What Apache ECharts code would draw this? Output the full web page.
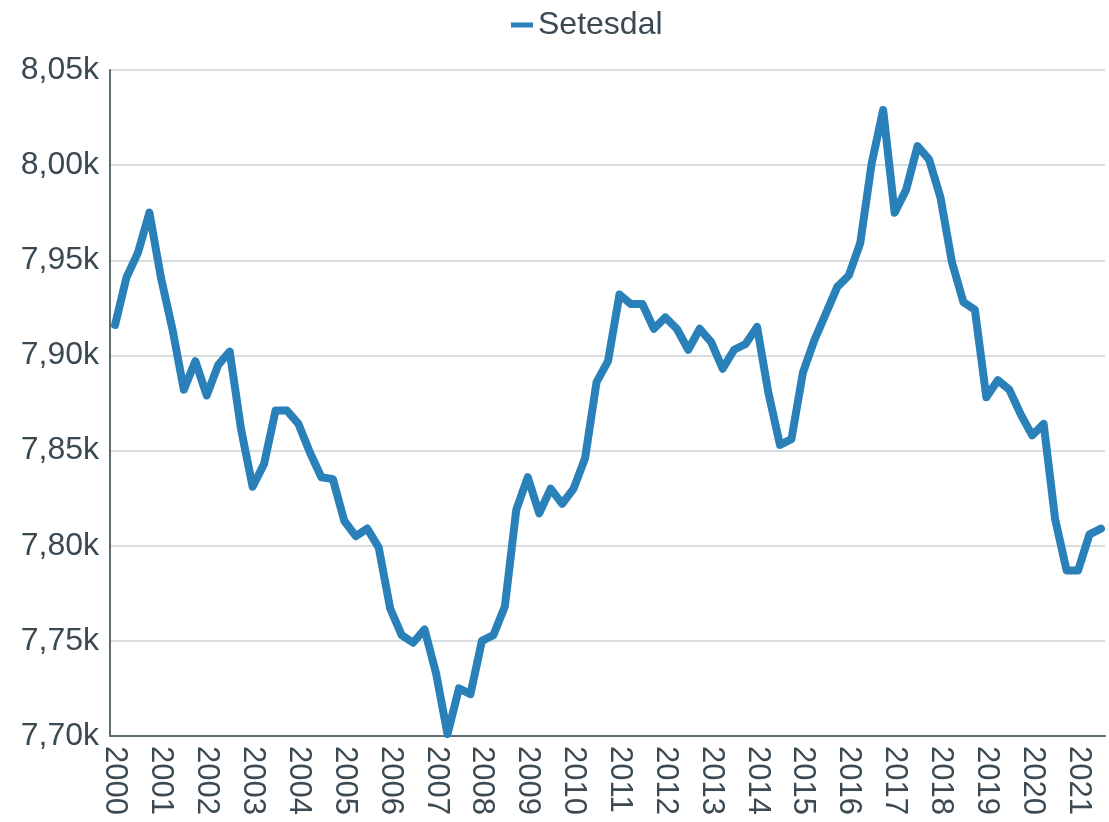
<!DOCTYPE html>
<html>
<head>
<meta charset="utf-8">
<script src="https://cdn.jsdelivr.net/npm/echarts@6/dist/echarts.min.js"></script>
<style>
  html, body { margin: 0; padding: 0; background: #fff; }
  #chart { width: 1109px; height: 822px; }
</style>
</head>
<body>
<div id="chart"></div>
<script>
// quarterly values 2000K1 .. 2021K3, one year label every 4 quarters
const years = [];
for (let y = 2000; y <= 2021; y++) years.push(String(y));

const seriesName = 'Setesdal';
const setesdal = [
  7916, 7941, 7954, 7975, 7941, 7914, 7882, 7897, 7879, 7895, 7902, 7861,
  7831, 7843, 7871, 7871, 7864, 7849, 7836, 7835, 7813, 7805, 7809, 7799,
  7767, 7753, 7749, 7756, 7733, 7701, 7725, 7722, 7750, 7753, 7768, 7819,
  7836, 7817, 7830, 7822, 7830, 7846, 7886, 7897, 7932, 7927, 7927, 7914,
  7920, 7914, 7903, 7914, 7907, 7893, 7903, 7906, 7915, 7880, 7853, 7856,
  7891, 7908, 7922, 7936, 7942, 7959, 8001, 8029, 7975, 7987, 8010, 8003,
  7983, 7949, 7928, 7924, 7878, 7887, 7882, 7869, 7858, 7864, 7814, 7787,
  7787, 7806, 7809
];
const yearTicks = years.map((y, i) => i * 4);

const textColor = '#3b4953';
const font = 'Liberation Sans, Arial, sans-serif';

const chart = echarts.init(document.getElementById('chart'));
chart.setOption({
  animation: false,
  color: ['#2a80b9'],
  legend: {
    top: 4,
    left: 506,
    icon: 'rect',
    itemWidth: 22,
    itemHeight: 5,
    itemGap: 10,
    textStyle: { color: textColor, fontSize: 32, fontFamily: font },
    data: [seriesName]
  },
  grid: { left: 110, right: 4, top: 70, bottom: 86, containLabel: false },
  xAxis: {
    type: 'value',
    min: -0.44,
    max: 86.35,
    axisLine: { onZero: false, lineStyle: { color: '#5d6b75', width: 2 } },
    axisTick: { show: false },
    axisLabel: {
      customValues: yearTicks,
      rotate: -90,
      margin: 10,
      color: textColor,
      fontSize: 31,
      fontFamily: font,
      formatter: (v) => years[Math.round(v / 4)]
    },
    splitLine: { show: false }
  },
  yAxis: {
    type: 'value',
    min: 7700,
    max: 8050,
    interval: 50,
    axisLine: { show: true, onZero: false, lineStyle: { color: '#5d6b75', width: 2 } },
    axisTick: { show: false },
    axisLabel: {
      margin: 11,
      color: textColor,
      fontSize: 32,
      fontFamily: font,
      formatter: (v) => (v / 1000).toFixed(2).replace('.', ',') + 'k'
    },
    splitLine: { lineStyle: { color: '#c9d3d9', width: 1.5 } }
  },
  series: [
    {
      name: seriesName,
      type: 'line',
      data: setesdal.map((v, i) => [i, v]),
      symbol: 'none',
      lineStyle: { width: 8, join: 'round', cap: 'round' }
    }
  ]
});
</script>
</body>
</html>
